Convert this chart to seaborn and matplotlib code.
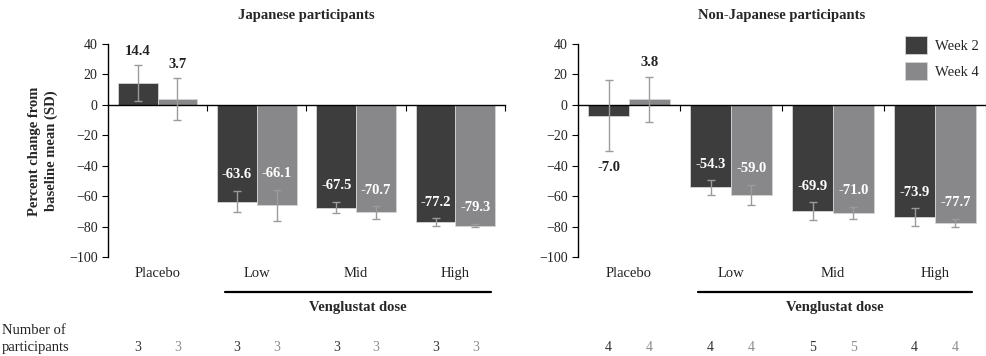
import matplotlib
matplotlib.use("Agg")

import pandas as pd
import matplotlib.pyplot as plt
import matplotlib.transforms as mtransforms
import seaborn as sns

# Data
doses = ["Placebo", "Low", "Mid", "High"]
weeks = ["Week 2", "Week 4"]

jp_week2 = [14.4, -63.6, -67.5, -77.2]
jp_week4 = [3.7, -66.1, -70.7, -79.3]
jp_sd_week2 = [11.6, 7.0, 3.7, 2.7]
jp_sd_week4 = [13.7, 10.3, 4.2, 1.3]
jp_n_week2 = [3, 3, 3, 3]
jp_n_week4 = [3, 3, 3, 3]

nj_week2 = [-7.0, -54.3, -69.9, -73.9]
nj_week4 = [3.8, -59.0, -71.0, -77.7]
nj_sd_week2 = [23.1, 4.7, 5.9, 5.8]
nj_sd_week4 = [14.8, 6.5, 3.9, 2.8]
nj_n_week2 = [4, 4, 5, 4]
nj_n_week4 = [4, 4, 5, 4]

dark = "#3d3d3d"
light = "#88888a"

sns.set_style("ticks")
plt.rcParams["font.family"] = ["Liberation Serif", "DejaVu Serif"]

fig = plt.figure(figsize=(9.87, 3.56), dpi=100)
W, H = 987, 356
ax1 = fig.add_axes([108 / W, 1 - 257 / H, 397 / W, 213 / H])
ax2 = fig.add_axes([578 / W, 1 - 257 / H, 408 / W, 213 / H])


def draw_panel(ax, title, w2, w4, sd2, sd4, n2, n4, legend):
    df = pd.DataFrame({
        "dose": doses * 2,
        "week": [weeks[0]] * 4 + [weeks[1]] * 4,
        "mean": w2 + w4,
    })
    sns.barplot(data=df, x="dose", y="mean", hue="week", order=doses,
                hue_order=weeks, palette=[dark, light], saturation=1,
                errorbar=None, edgecolor="#d4d4d4", linewidth=0.6,
                ax=ax, legend=legend)
    trans = mtransforms.blended_transform_factory(ax.transData, ax.transAxes)

    for cont, means, sds, ns, ncol in zip(ax.containers, [w2, w4], [sd2, sd4],
                                          [n2, n4], ["#333333", "#8c8c8c"]):
        xs = [p.get_x() + p.get_width() / 2 for p in cont.patches]
        ax.errorbar(xs, means, yerr=sds, fmt="none", ecolor="#9b9b9b",
                    elinewidth=1, capsize=3, capthick=1, zorder=3)
        for x, m, s, n in zip(xs, means, sds, ns):
            if m >= 0:
                ax.text(x, m + s + 9, f"{m:.1f}", ha="center", va="center",
                        fontsize=10.5, fontweight="bold", color="#222222")
            elif m + s < -20:
                ax.text(x, m + s + 10.5, f"{m:.1f}", ha="center", va="center",
                        fontsize=10.5, fontweight="bold", color="white")
            else:
                ax.text(x, m - s - 11, f"{m:.1f}", ha="center", va="center",
                        fontsize=10.5, fontweight="bold", color="#222222")
            ax.text(x, -0.427, str(n), transform=trans, ha="center",
                    va="center", fontsize=10, color=ncol, clip_on=False)

    for i, d in enumerate(doses):
        ax.text(i, -0.078, d, transform=trans, ha="center", va="center",
                fontsize=10.5, color="#222222")

    # dose bracket
    ax.plot([0.68, 3.36], [-0.164, -0.164], transform=trans, clip_on=False,
            color="black", lw=1.6)
    ax.text(2.02, -0.235, "Venglustat dose", transform=trans, ha="center",
            va="center", fontsize=10.5, fontweight="bold")

    ax.set_xlim(-0.5, 3.5)
    ax.set_ylim(-100, 40)
    ax.set_yticks(range(-100, 41, 20))
    ax.set_xticks([0.5, 1.5, 2.5, 3.5])
    ax.set_xticklabels([])
    ax.set_xlabel("")
    ax.set_ylabel("")
    sns.despine(ax=ax)
    ax.spines["bottom"].set_position(("data", 0))
    for sp in ["bottom", "left"]:
        ax.spines[sp].set_color("black")
        ax.spines[sp].set_linewidth(1)
    ax.tick_params(axis="x", length=4, width=0.8, color="black")
    ax.tick_params(axis="y", length=4, width=0.8, color="black",
                   labelsize=10, labelcolor="#222222")

    bb = ax.get_position()
    fig.text((bb.x0 + bb.x1) / 2, 1 - 16 / H, title, ha="center",
             va="center", fontsize=10.5, fontweight="bold")


draw_panel(ax1, "Japanese participants", jp_week2, jp_week4,
           jp_sd_week2, jp_sd_week4, jp_n_week2, jp_n_week4, False)
draw_panel(ax2, "Non-Japanese participants", nj_week2, nj_week4,
           nj_sd_week2, nj_sd_week4, nj_n_week2, nj_n_week4, True)

sns.move_legend(ax2, "upper left", bbox_to_anchor=(905 / W, 1 - 36 / H),
                bbox_transform=fig.transFigure, title=None, frameon=False,
                handlelength=1.5, handleheight=1.5, handletextpad=0.55,
                labelspacing=0.55, borderpad=0, borderaxespad=0,
                fontsize=10.5)

fig.text(43 / W, 1 - 151 / H, "Percent change from\nbaseline mean (SD)",
         rotation=90, ha="center", va="center", fontsize=10.5,
         fontweight="bold", linespacing=1.3, multialignment="center")
fig.text(2 / W, 1 - 330 / H, "Number of", ha="left", va="center",
         fontsize=10.5, color="#222222")
fig.text(2 / W, 1 - 348 / H, "participants", ha="left", va="center",
         fontsize=10.5, color="#222222")

fig.savefig("out.png", dpi=100)
